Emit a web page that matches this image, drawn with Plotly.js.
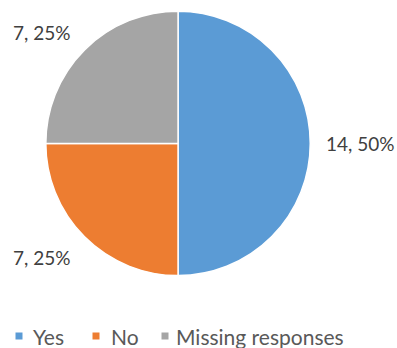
<!DOCTYPE html>
<html>
<head>
<meta charset="utf-8">
<script src="https://cdn.plot.ly/plotly-3.0.1.min.js"></script>
<style>html,body{margin:0;padding:0;background:#fff;}#chart{width:397px;height:348px;}</style>
</head>
<body>
<div id="chart"></div>
<script>
const categories = ["Yes", "No", "Missing responses"];
const counts = [14, 7, 7];
const colors = ["#5B9BD5", "#ED7D31", "#A5A5A5"];

const W = 397, H = 348;
const total = counts.reduce((a, b) => a + b, 0);
const dataLabels = counts.map(v => v + ", " + Math.round(100 * v / total) + "%");

const trace = {
  type: "pie",
  labels: categories,
  values: counts,
  sort: false,
  direction: "clockwise",
  rotation: 0,
  marker: {colors: colors, line: {color: "#ffffff", width: 1.5}},
  textinfo: "none",
  automargin: false,
  showlegend: false,
  hoverinfo: "label+value+percent",
  domain: {x: [0.115, 0.782], y: [0.208, 0.968]}
};

// layout positions (pixels) for data labels and legend entries
const labelPos = [[324, 144], [11, 257], [11, 32]];
const legendMarkerX = [19, 96, 165];
const legendTextX = [31, 109, 174];
const legendY = 336;

const px = x => x / W, py = y => 1 - y / H;
const font = "Lato, 'Open Sans', sans-serif";

const annotations = [];
const shapes = [];
categories.forEach((c, i) => {
  annotations.push({
    xref: "paper", yref: "paper", x: px(labelPos[i][0]), y: py(labelPos[i][1]),
    xanchor: "left", yanchor: "middle", showarrow: false,
    text: dataLabels[i], font: {family: font, size: 19, color: "#404040"}
  });
  annotations.push({
    xref: "paper", yref: "paper", x: px(legendTextX[i]), y: py(legendY),
    xanchor: "left", yanchor: "middle", showarrow: false,
    text: c, font: {family: font, size: 21, color: "#595959"}
  });
  shapes.push({
    type: "rect", xref: "paper", yref: "paper",
    x0: px(legendMarkerX[i] - 3.5), x1: px(legendMarkerX[i] + 3.5),
    y0: py(legendY + 3.5), y1: py(legendY - 3.5),
    fillcolor: colors[i], line: {width: 0}
  });
});

const layout = {
  width: W, height: H,
  margin: {l: 0, r: 0, t: 0, b: 0},
  paper_bgcolor: "#ffffff",
  showlegend: false,
  annotations: annotations,
  shapes: shapes
};

Plotly.newPlot("chart", [trace], layout, {displayModeBar: false, staticPlot: true});
</script>
</body>
</html>
